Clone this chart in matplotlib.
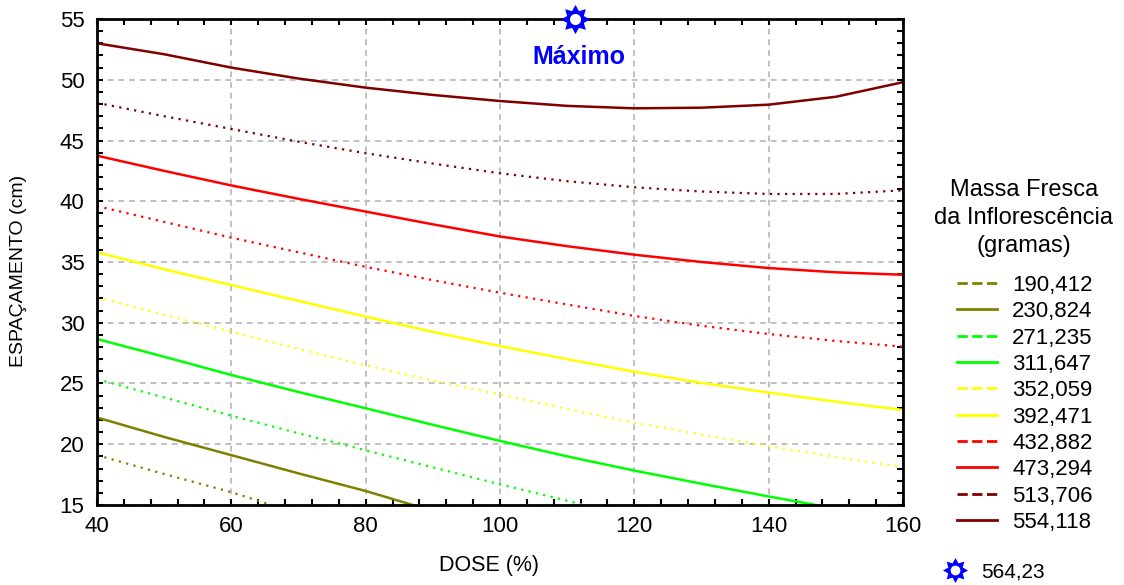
import numpy as np
import matplotlib.pyplot as plt
from matplotlib.lines import Line2D
from matplotlib.path import Path
from matplotlib.ticker import MultipleLocator

plt.rcParams['font.family'] = ['Liberation Sans', 'DejaVu Sans']

# contour levels (massa fresca, g) and their styles
levels = ['190,412', '230,824', '271,235', '311,647', '352,059',
          '392,471', '432,882', '473,294', '513,706', '554,118']
colors = ['#808000', '#808000', '#00ff00', '#00ff00', '#ffff00',
          '#ffff00', '#ff0000', '#ff0000', '#800000', '#800000']
dotted = [True, False, True, False, True, False, True, False, True, False]

# curves: dose (%) -> espacamento (cm)
x_full = [40, 50, 60, 70, 80, 90, 100, 110, 120, 130, 140, 150, 160]
y_190 = [19.1, 17.55, 16.05, 15.0]
x_190 = [40, 50, 60, 66]
y_230 = [22.2, 20.6, 19.1, 17.6, 16.15, 15.0]
x_230 = [40, 50, 60, 70, 80, 87]
y_271 = [25.35, 23.85, 22.35, 20.9, 19.5, 18.1, 16.7, 15.35, 15.0]
x_271 = [40, 50, 60, 70, 80, 90, 100, 110, 112.4]
y_311 = [28.66, 27.2, 25.7, 24.3, 22.96, 21.6, 20.27, 19.0, 17.83, 16.75, 15.7, 15.0]
x_311 = [40, 50, 60, 70, 80, 90, 100, 110, 120, 130, 140, 147]
y_352 = [32.1, 30.65, 29.26, 27.85, 26.5, 25.25, 24.1, 22.9, 21.77, 20.8, 19.85, 18.95, 18.1]
y_392 = [35.8, 34.4, 33.1, 31.8, 30.5, 29.25, 28.08, 27.0, 25.97, 25.05, 24.25, 23.5, 22.82]
y_432 = [39.6, 38.3, 37.0, 35.8, 34.6, 33.5, 32.47, 31.5, 30.56, 29.75, 29.07, 28.5, 28.03]
y_473 = [43.75, 42.5, 41.3, 40.2, 39.15, 38.1, 37.1, 36.3, 35.6, 35.0, 34.5, 34.15, 33.95]
y_513 = [48.1, 47.0, 45.95, 44.9, 43.95, 43.1, 42.3, 41.65, 41.15, 40.8, 40.6, 40.6, 40.9]
y_554 = [53.0, 52.1, 51.0, 50.1, 49.35, 48.75, 48.25, 47.85, 47.65, 47.7, 47.95, 48.6, 49.8]

curves = [(x_190, y_190), (x_230, y_230), (x_271, y_271), (x_311, y_311),
          (x_full, y_352), (x_full, y_392), (x_full, y_432), (x_full, y_473),
          (x_full, y_513), (x_full, y_554)]

max_x, max_y, max_val = 111.2, 55, '564,23'

sun = Path.unit_regular_star(8, innerCircle=0.62)

fig = plt.figure(figsize=(11.24, 5.85), dpi=100)
ax = fig.add_axes([0.0863, 0.1368, 0.7171, 0.8307])

for (xs, ys), c, d in zip(curves, colors, dotted):
    if d:
        ax.plot(xs, ys, color=c, lw=1.6, linestyle=(0, (1, 2.4)))
    else:
        ax.plot(xs, ys, color=c, lw=1.8)

# maximum point: blue sun on the top spine
ax.plot([max_x], [max_y], marker=sun, markersize=21, color='#0000ff',
        markeredgewidth=0, linestyle='none', clip_on=False, zorder=5)
ax.plot([max_x], [max_y], marker='o', markersize=8, color='white',
        markeredgewidth=0, linestyle='none', clip_on=False, zorder=6)
ax.text(111.7, 51.9, 'Máximo', color='#0000ff', fontsize=18, fontweight='bold',
        ha='center', va='center')

ax.set_xlim(40, 160)
ax.set_ylim(15, 55)
ax.xaxis.set_major_locator(MultipleLocator(20))
ax.xaxis.set_minor_locator(MultipleLocator(4))
ax.yaxis.set_major_locator(MultipleLocator(5))
ax.yaxis.set_minor_locator(MultipleLocator(1))
ax.tick_params(which='both', direction='in', top=True, right=True,
               length=4, width=1.5, labelsize=16)
ax.tick_params(axis='x', pad=8)
ax.tick_params(axis='y', pad=9)
ax.grid(True, which='major', color='#c0c0c0', linestyle=(0, (3, 2.5)), lw=1.4)
for s in ax.spines.values():
    s.set_linewidth(2)

ax.set_xlabel('DOSE (%)', fontsize=15.5, va='center')
ax.xaxis.set_label_coords(0.486, -0.1255)
ax.set_ylabel('ESPAÇAMENTO (cm)', fontsize=14, va='center')
ax.yaxis.set_label_coords(-0.0968, 0.4825)

# legend title as plain centered text
fig.text(1024 / 1124, 1 - 218 / 585, 'Massa Fresca\nda Inflorescência\n(gramas)',
         fontsize=17, ha='center', va='center', multialignment='center',
         linespacing=1.34)

handles = []
for c, d in zip(colors, dotted):
    handles.append(Line2D([], [], color=c, lw=2, linestyle='--' if d else '-'))
leg = ax.legend(handles, levels, loc='center left',
                bbox_to_anchor=(1.067, 0.208), frameon=False,
                fontsize=16, handlelength=1.8, labelspacing=0.24,
                handletextpad=0.68, borderpad=0, borderaxespad=0)
ax.add_artist(leg)

star = Line2D([], [], marker=sun, markersize=18, color='#0000ff',
              markeredgewidth=0, linestyle='none')
dot = Line2D([], [], marker='o', markersize=7, color='white',
             markeredgewidth=0, linestyle='none')
ax.legend([(star, dot)], [max_val], loc='center left',
          bbox_to_anchor=(1.052, -0.138), frameon=False, fontsize=15,
          handlelength=1.0, handletextpad=0.75, borderpad=0, borderaxespad=0)

fig.savefig('out.png', dpi=100)
